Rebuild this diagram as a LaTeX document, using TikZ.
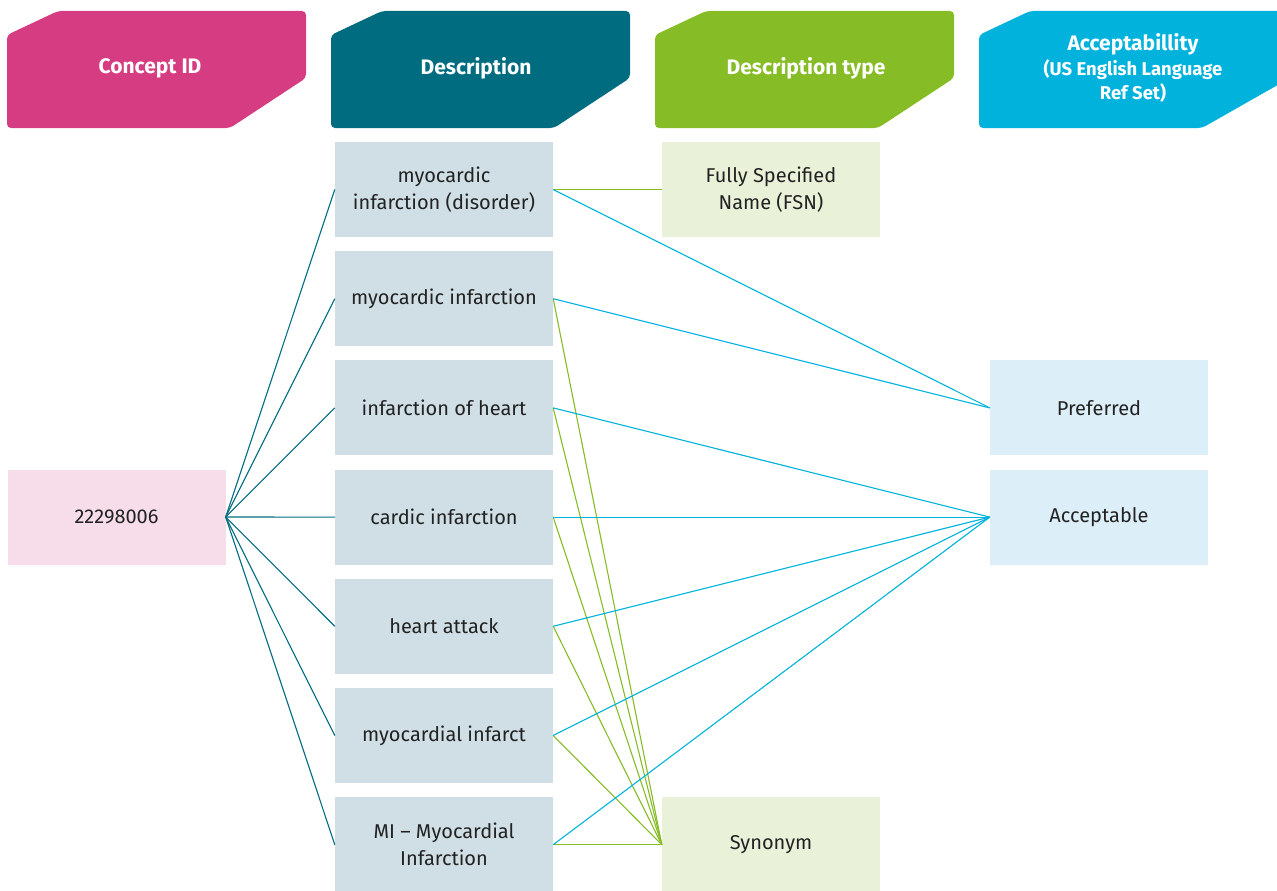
\documentclass[tikz,border=0pt]{standalone}
\usepackage{fontspec}
\setmainfont{Fira Sans}
\usepackage{tikz}
\definecolor{idpink}{HTML}{D63C82}
\definecolor{descteal}{HTML}{006C80}
\definecolor{typegreen}{HTML}{86BC25}
\definecolor{accblue}{HTML}{00B2DC}
\definecolor{idfill}{HTML}{F7DDEA}
\definecolor{descfill}{HTML}{CFDFE5}
\definecolor{typefill}{HTML}{E9F1D9}
\definecolor{accfill}{HTML}{DCEEF7}
\definecolor{textdark}{HTML}{222222}
\tikzstyle{box}=[minimum width=218pt,minimum height=95pt,inner sep=0pt,align=center,text=textdark,font=\fontsize{20}{27}\selectfont]
\tikzstyle{head}=[text=white,align=center,font=\bfseries\fontsize{21}{25}\selectfont]
\tikzstyle{headshape}=[rounded corners=4pt]
\tikzstyle{idline}=[descteal,line width=1.1pt]
\tikzstyle{typeline}=[typegreen,line width=1.1pt]
\tikzstyle{accline}=[accblue,line width=1.1pt]

\begin{document}
\begin{tikzpicture}[x=1pt,y=-1pt]
\useasboundingbox (0,0) rectangle (1277,891);
% headers
\fill[idpink,headshape] (7,128)--(7,35)--(58,11)--(306,11)--(306,78)--(230,128)--cycle;
\fill[descteal,headshape] (331,128)--(331,35)--(382,11)--(630,11)--(630,78)--(554,128)--cycle;
\fill[typegreen,headshape] (655,128)--(655,35)--(706,11)--(954,11)--(954,78)--(878,128)--cycle;
\fill[accblue,headshape] (979,128)--(979,35)--(1030,11)--(1290,11)--(1290,78)--(1202,128)--cycle;
\node[head] (hid) at (150,68) {Concept ID};
\node[head] (hdesc) at (476,68) {Description};
\node[head] (htype) at (806,68) {Description type};
\node[head,font=\bfseries\fontsize{18.5}{24.5}\selectfont] (hacc) at (1133,68) {{\fontsize{21}{24.5}\selectfont Acceptabillity}\\(US English Language\\Ref Set)};
% boxes
\node[box,fill=idfill] (cid) at (116.5,517) {22298006};
\node[box,fill=descfill] (d1) at (444,189.5) {myocardic\\infarction (disorder)};
\node[box,fill=descfill] (d2) at (444,298.7) {myocardic infarction};
\node[box,fill=descfill] (d3) at (444,407.9) {infarction of heart};
\node[box,fill=descfill] (d4) at (444,517.1) {cardic infarction};
\node[box,fill=descfill] (d5) at (444,626.3) {heart attack};
\node[box,fill=descfill] (d6) at (444,735.5) {myocardial infarct};
\node[box,fill=descfill] (d7) at (444,844.7) {MI -- Myocardial\\Infarction};
\node[box,fill=typefill] (fsn) at (771,189.5) {Fully Specified\\Name (FSN)};
\node[box,fill=typefill] (syn) at (771,844.7) {Synonym};
\node[box,fill=accfill] (pref) at (1099,407.9) {Preferred};
\node[box,fill=accfill] (acc) at (1099,517.1) {Acceptable};
% connectors
\foreach \i in {1,...,7} \draw[idline] (cid.east) -- (d\i.west);
\draw[typeline] (d1.east) -- (fsn.west);
\foreach \i in {2,...,7} \draw[typeline] (d\i.east) -- (syn.west);
\foreach \i in {1,2} \draw[accline] (d\i.east) -- (pref.west);
\foreach \i in {3,...,7} \draw[accline] (d\i.east) -- (acc.west);
\end{tikzpicture}
\end{document}
